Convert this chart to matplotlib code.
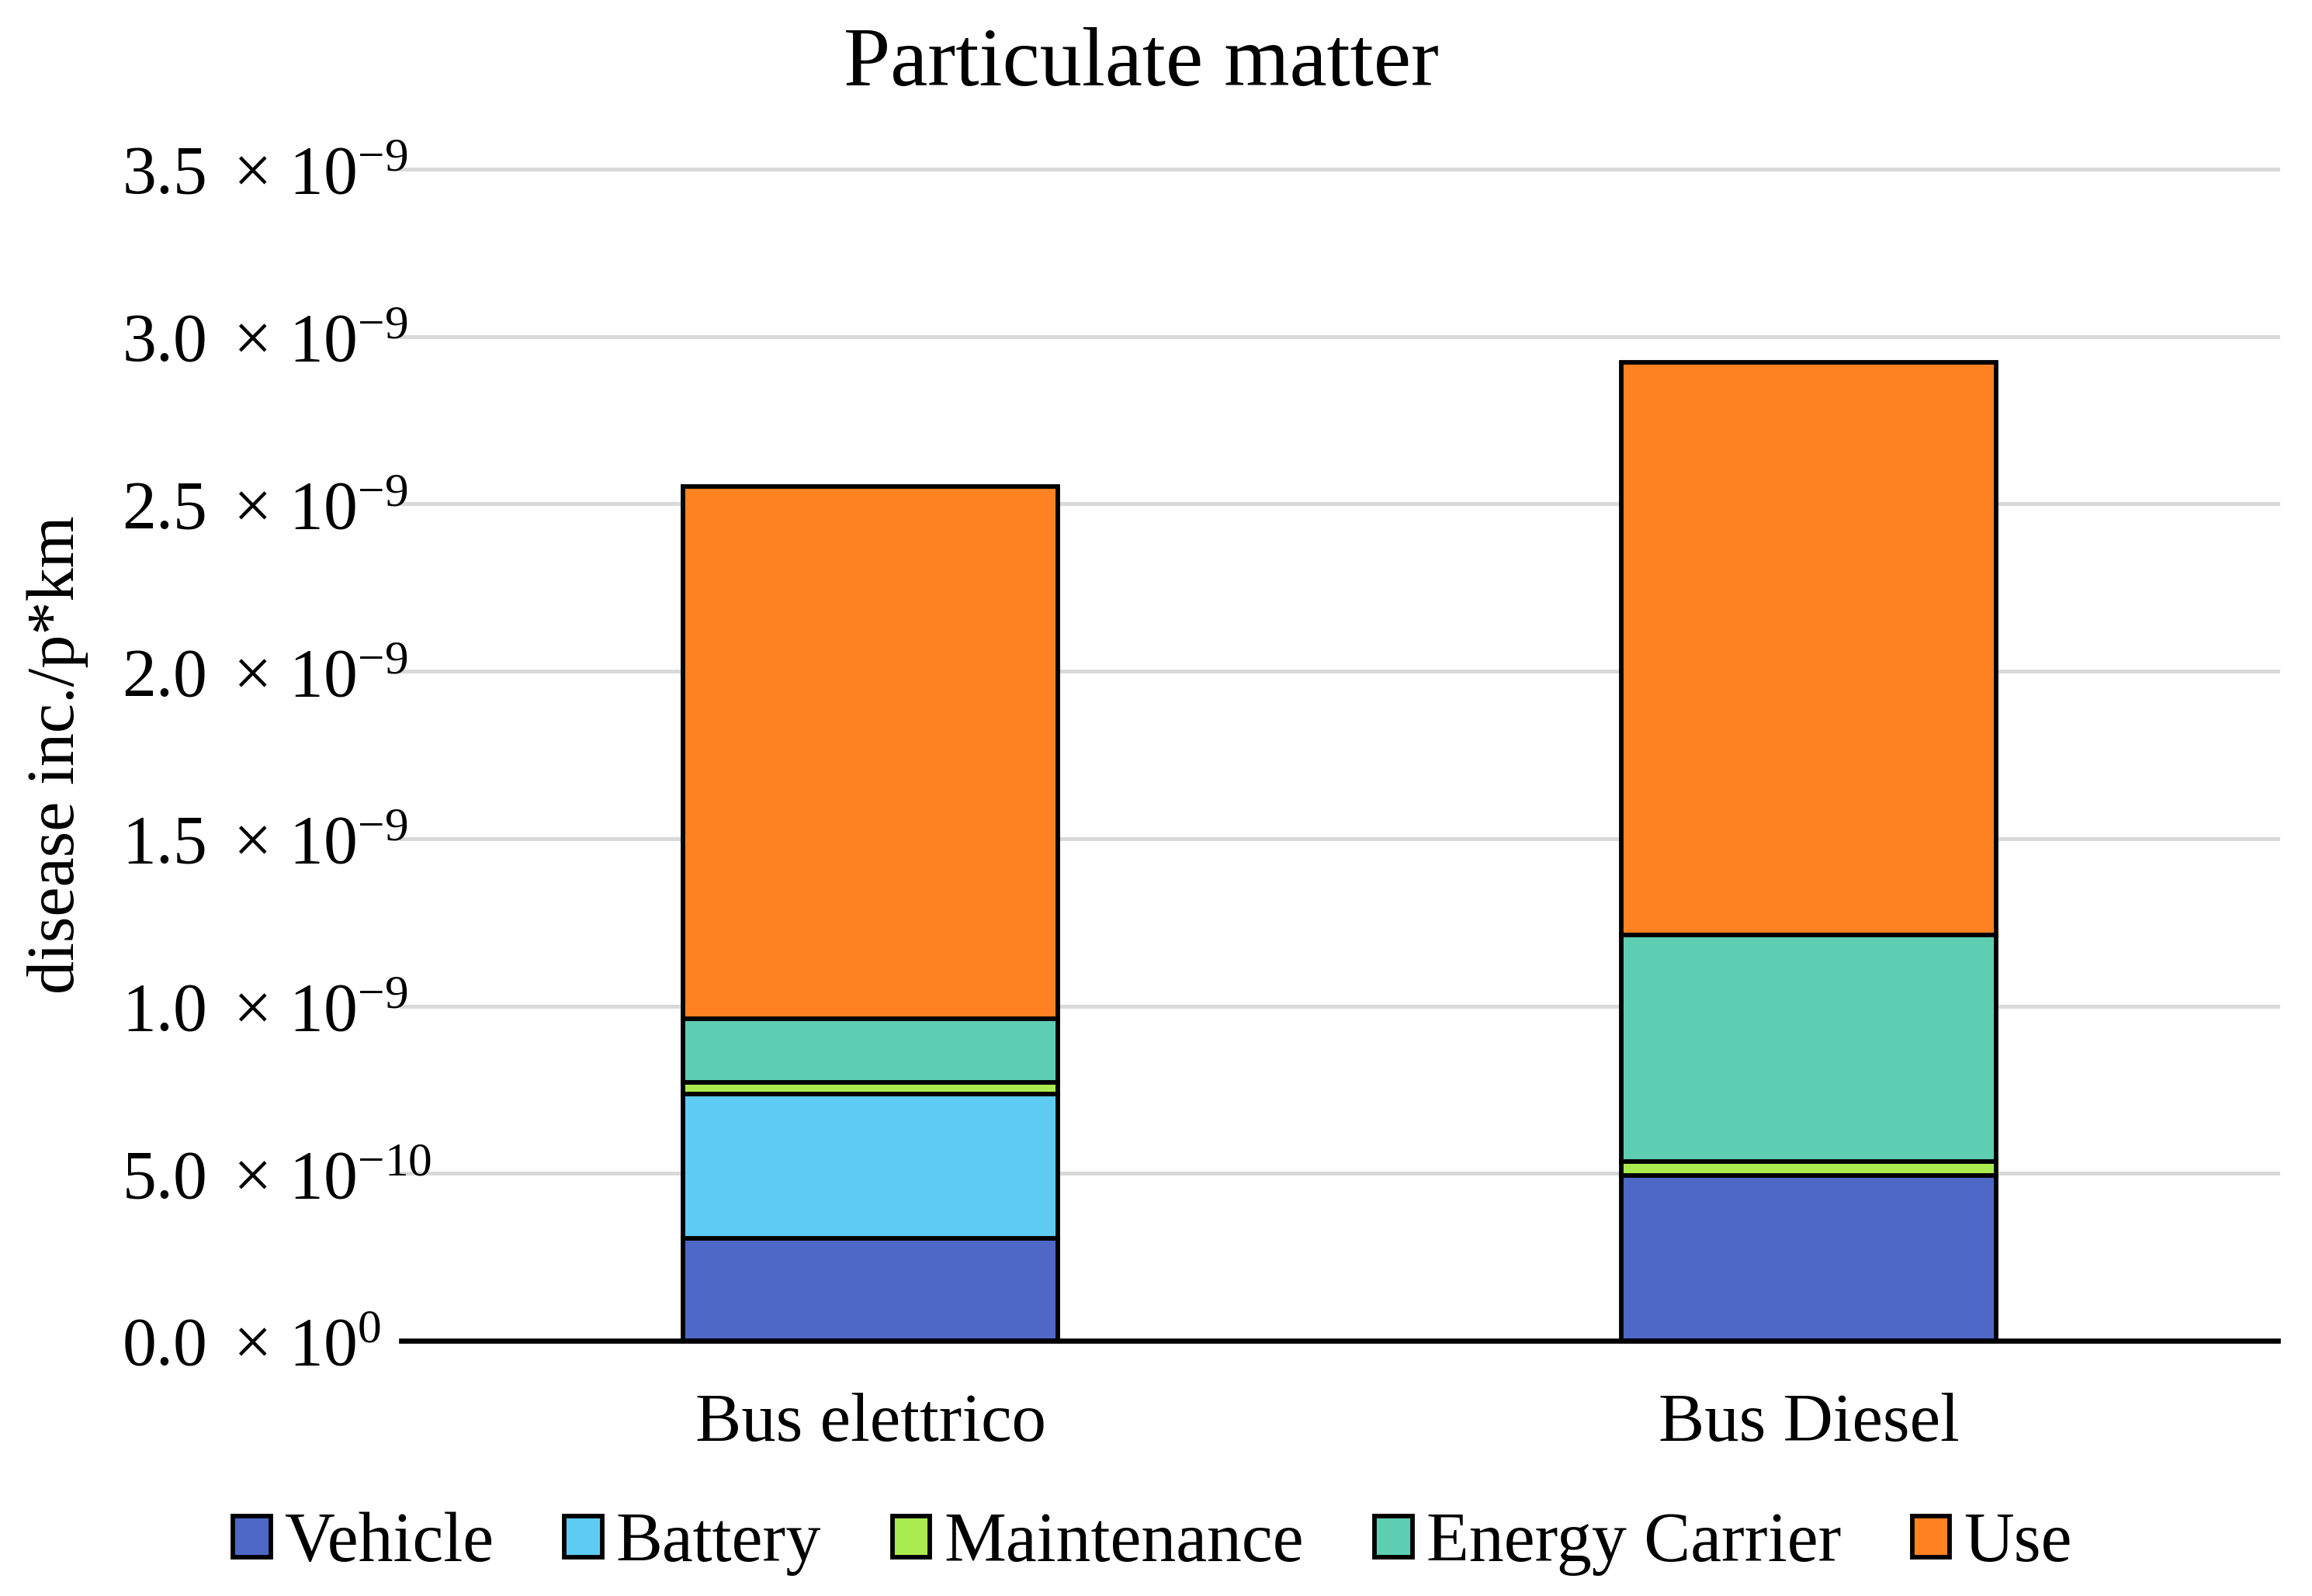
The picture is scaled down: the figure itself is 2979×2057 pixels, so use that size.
import matplotlib
matplotlib.use("Agg")
import matplotlib.pyplot as plt
from matplotlib.ticker import FuncFormatter, MultipleLocator
import numpy as np

plt.rcParams['font.family'] = ['Liberation Serif', 'DejaVu Serif']
plt.rcParams['mathtext.fontset'] = 'custom'
plt.rcParams['mathtext.rm'] = 'Liberation Serif'
plt.rcParams['mathtext.it'] = 'Liberation Serif:italic'
plt.rcParams['mathtext.bf'] = 'Liberation Serif:bold'

categories = ["Bus elettrico", "Bus Diesel"]
series_names = ["Vehicle", "Battery", "Maintenance", "Energy Carrier", "Use"]
vehicle = [0.306e-9, 0.493e-9]
battery = [0.432e-9, 0.0]
maintenance = [0.035e-9, 0.042e-9]
energy_carrier = [0.188e-9, 0.678e-9]
use = [1.590e-9, 1.710e-9]
colors = ["#4F68C7", "#5ECBF2", "#AAEB50", "#5ECEB2", "#FF8222"]

title = "Particulate matter"
ylabel = "disease inc./p*km"

W, H = 2979, 2057
dpi = 200
fig = plt.figure(figsize=(W / dpi, H / dpi), dpi=dpi)
ax = fig.add_axes([517 / W, 1 - 1728 / H, (2935 - 517) / W, (1728 - 218) / H])

x = np.arange(len(categories))
series = [vehicle, battery, maintenance, energy_carrier, use]
bottom = np.zeros(len(categories))
handles = []
for name, vals, col in zip(series_names, series, colors):
    vals = np.array(vals)
    b = ax.bar(x, vals, 0.40, bottom=bottom, color=col, edgecolor="black",
               linewidth=2.1, label=name, zorder=3)
    handles.append(b)
    bottom = bottom + vals

ax.set_xlim(-0.5, 1.5)
ax.set_ylim(0, 3.5e-9)
ax.yaxis.set_major_locator(MultipleLocator(0.5e-9))


def fmt(v, pos):
    if abs(v) < 1e-20:
        return r"$0.0\ \times\, 10^{0}$"
    e = int(np.floor(np.log10(abs(v))))
    m = v / 10 ** e
    return r"$%.1f\ \times\, 10^{%d}$" % (m, e)


ax.yaxis.set_major_formatter(FuncFormatter(fmt))
ax.grid(axis="y", color="#D9D9D9", linewidth=1.8, zorder=0)
for gl in ax.get_ygridlines():
    gl.set_clip_on(False)
ax.set_axisbelow(True)
for s in ["top", "right", "left"]:
    ax.spines[s].set_visible(False)
ax.spines["bottom"].set_linewidth(2.4)
ax.spines["bottom"].set_zorder(4)
pad_px = 517 - 157
ax.tick_params(axis="y", length=0, pad=pad_px * 72 / dpi, labelsize=31.5)
for lab in ax.get_yticklabels():
    lab.set_horizontalalignment("left")
ax.tick_params(axis="x", length=0, pad=24, labelsize=32)
ax.set_xticks(x)
ax.set_xticklabels(categories)

fig.text(0.4935, 1 - 110 / H, title, ha="center", va="baseline", fontsize=39)
fig.text(74 / W, 1 - 973 / H, ylabel, ha="center", va="center", rotation=90, fontsize=31)

fig.legend(handles=handles, labels=series_names, loc="center",
           bbox_to_anchor=(0.4985, 1 - 1990 / H), ncol=5, frameon=False,
           fontsize=32.3, handlelength=0.54, handleheight=0.54,
           handletextpad=0.2, columnspacing=1.02)

fig.savefig("out.png", dpi=dpi)
